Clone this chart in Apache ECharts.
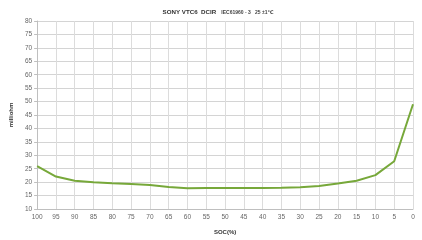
<!DOCTYPE html>
<html><head><meta charset="utf-8">
<script src="https://cdn.jsdelivr.net/npm/echarts@6/dist/echarts.min.js"></script>
<style>html,body{margin:0;padding:0;background:#fff}#c{width:422px;height:240px}</style>
</head><body><div id="c"></div>
<script>
const categories = ['100','95','90','85','80','75','70','65','60','55','50','45','40','35','30','25','20','15','10','5','0'];
const dcir = [26.0,22.1,20.5,20.0,19.6,19.3,18.9,18.2,17.7,17.8,17.8,17.8,17.8,17.9,18.1,18.6,19.5,20.5,22.6,27.8,49.0];
const yMin = 10, yMax = 80, yStep = 5;

const chart = echarts.init(document.getElementById('c'), null, {renderer:'canvas'});
const font = '"Liberation Sans", "DejaVu Sans", sans-serif';
chart.setOption({
  animation:false,
  backgroundColor:'#fff',
  textStyle:{fontFamily:font},
  title:{
    text:'{a|SONY VTC6  DCIR   }{b|IEC61960 - 3   }{c|25 ±1℃}',
    left:213, top:3, textAlign:'center',
    textStyle:{fontSize:6,rich:{
      a:{fontSize:6.2,fontWeight:'bold',color:'#333',fontFamily:font,lineHeight:9,verticalAlign:'middle'},
      b:{fontSize:5,fontWeight:'bold',color:'#444',fontFamily:font,lineHeight:9,verticalAlign:'middle'},
      c:{fontSize:5,color:'#444',fontFamily:font,lineHeight:9,verticalAlign:'middle'}
    }}
  },
  grid:{left:31,right:9,top:21,bottom:31,containLabel:false},
  xAxis:{
    type:'category', data:categories, boundaryGap:false,
    name:'SOC(%)', nameLocation:'middle', nameGap:20,
    nameTextStyle:{fontSize:6,fontWeight:'bold',color:'#333',fontFamily:font},
    axisLine:{lineStyle:{color:'#bfbfbf'}},
    axisTick:{show:false},
    axisLabel:{fontSize:6.5,color:'#666',margin:5,fontFamily:font},
    splitLine:{show:true,lineStyle:{color:'#dcdcdc',width:1}}
  },
  yAxis:{
    type:'value', min:yMin, max:yMax, interval:yStep,
    name:'milliohm', nameLocation:'middle', nameGap:20, nameRotate:90,
    nameTextStyle:{fontSize:6,fontWeight:'bold',color:'#333',fontFamily:font},
    axisLine:{show:true,lineStyle:{color:'#bfbfbf'}},
    axisTick:{show:true,length:3,lineStyle:{color:'#bfbfbf'}},
    axisLabel:{fontSize:6.5,color:'#666',margin:5,fontFamily:font},
    splitLine:{show:true,lineStyle:{color:'#d4d4d4',width:1}}
  },
  series:[{
    type:'line', data:dcir, symbol:'none', smooth:false,
    lineStyle:{color:'#77a83a',width:2}
  }]
});
</script></body></html>
